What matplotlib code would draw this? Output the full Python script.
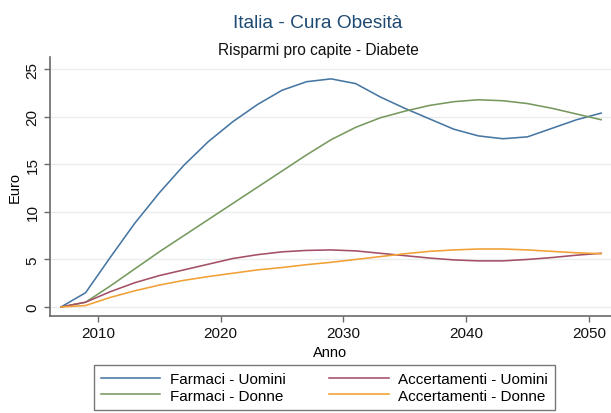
import matplotlib
matplotlib.use("Agg")
import matplotlib.pyplot as plt
from matplotlib.lines import Line2D

plt.rcParams['font.family'] = ['Liberation Sans', 'DejaVu Sans']

years = [2007, 2009, 2011, 2013, 2015, 2017, 2019, 2021, 2023, 2025, 2027, 2029,
         2031, 2033, 2035, 2037, 2039, 2041, 2043, 2045, 2047, 2049, 2051]
farmaci_uomini = [0, 1.5, 5.2, 8.8, 12.0, 14.9, 17.4, 19.5, 21.3, 22.8, 23.7, 24.0,
                  23.5, 22.1, 20.9, 19.8, 18.7, 18.0, 17.7, 17.9, 18.8, 19.7, 20.4]
farmaci_donne = [0, 0.5, 2.2, 4.0, 5.8, 7.5, 9.2, 10.9, 12.6, 14.3, 16.0, 17.6,
                 18.9, 19.9, 20.6, 21.2, 21.6, 21.8, 21.7, 21.4, 20.9, 20.3, 19.7]
accert_uomini = [0, 0.5, 1.6, 2.55, 3.3, 3.9, 4.5, 5.1, 5.5, 5.8, 5.95, 6.0,
                 5.9, 5.65, 5.4, 5.15, 4.95, 4.85, 4.85, 5.0, 5.2, 5.45, 5.65]
accert_donne = [0, 0.15, 1.0, 1.7, 2.3, 2.8, 3.2, 3.55, 3.9, 4.15, 4.45, 4.7,
                5.0, 5.3, 5.6, 5.85, 6.0, 6.1, 6.1, 6.0, 5.85, 5.7, 5.6]
labels = ["Farmaci - Uomini", "Accertamenti - Uomini",
          "Farmaci - Donne", "Accertamenti - Donne"]
xticks = [2010, 2020, 2030, 2040, 2050]
yticks = [0, 5, 10, 15, 20, 25]

W, H = 611, 414
fig = plt.figure(figsize=(W / 100, H / 100), dpi=100)
fig.patch.set_facecolor('white')
ax = fig.add_axes([50 / W, 1 - 317 / H, 1 - 50 / W, (317 - 58) / H])

c_blue = '#4677a3'
c_green = '#77995e'
c_maroon = '#a44f66'
c_orange = '#f1a035'

lw = 1.15
ax.plot(years, farmaci_uomini, color=c_blue, lw=lw)
ax.plot(years, farmaci_donne, color=c_green, lw=lw)
ax.plot(years, accert_uomini, color=c_maroon, lw=lw)
ax.plot(years, accert_donne, color=c_orange, lw=lw)

ax.set_xlim(2006.1, 2051.8)
ax.set_ylim(-0.95, 26.3)
ax.set_xticks(xticks)
ax.set_yticks(yticks)
ax.set_yticklabels([str(v) for v in yticks], rotation=90, va='center')
ax.grid(axis='y', color='#ececec', lw=1.0)
ax.set_axisbelow(True)
for s in ['top', 'right']:
    ax.spines[s].set_visible(False)
for s in ['left', 'bottom']:
    ax.spines[s].set_color('#6a6a6a')
    ax.spines[s].set_linewidth(1.2)
ax.tick_params(axis='both', length=4, width=1.0, color='#6a6a6a',
               labelsize=11, labelcolor='#111111', pad=3.5)

ax.set_xlabel("Anno", fontsize=10.5, labelpad=3)
ax.set_ylabel("Euro", fontsize=10.5, labelpad=3)

fig.text(318 / W, 1 - 23 / H, "Italia - Cura Obesità", ha='center', va='center',
         fontsize=13.8, color='#1f4a72')
fig.text(318 / W, 1 - 50 / H, "Risparmi pro capite - Diabete", ha='center',
         va='center', fontsize=11.2, color='#111111')

handles = [Line2D([], [], color=c_blue, lw=lw),
           Line2D([], [], color=c_maroon, lw=lw),
           Line2D([], [], color=c_green, lw=lw),
           Line2D([], [], color=c_orange, lw=lw)]
# order so that column 1 = Farmaci, column 2 = Accertamenti
order = [0, 2, 1, 3]
leg = fig.legend([handles[i] for i in order], [labels[i] for i in order],
                 loc='upper left', bbox_to_anchor=(94 / W, 1 - 366 / H),
                 ncol=2, fontsize=11, frameon=True, fancybox=False,
                 handlelength=3.9, handletextpad=0.65, columnspacing=2.8,
                 labelspacing=0.18, borderpad=0.45, borderaxespad=0)
leg.get_frame().set_edgecolor('#555555')
leg.get_frame().set_linewidth(1.0)

fig.savefig("out.png", dpi=100)
